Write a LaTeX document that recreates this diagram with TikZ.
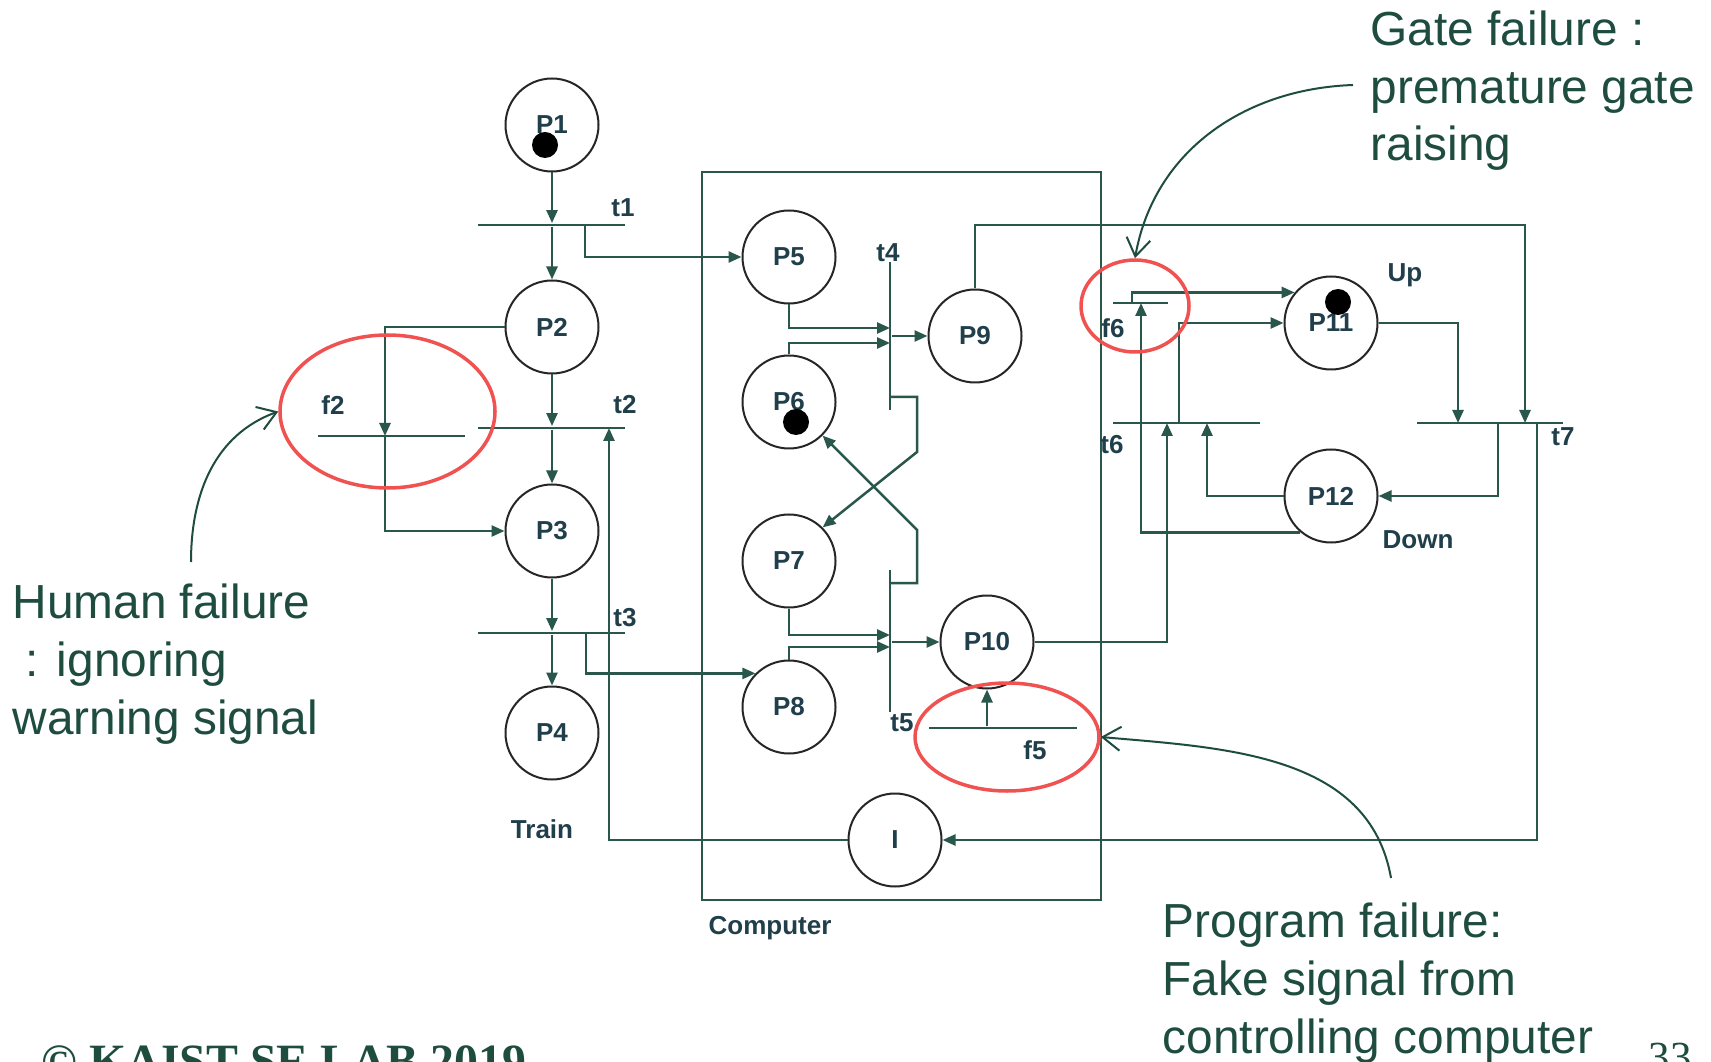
\documentclass[tikz,border=0pt]{standalone}
\usepackage{fontspec}
\setmainfont{Liberation Sans}
\newfontfamily\footserif{Liberation Serif}
\usetikzlibrary{arrows.meta,shapes.geometric}
\definecolor{netgreen}{HTML}{2A574C}
\definecolor{notegreen}{HTML}{1E4D40}
\definecolor{labelblue}{HTML}{203F4B}
\definecolor{ringred}{HTML}{F05252}
\newcommand{\plfont}{\fontsize{7.4}{8}\selectfont\bfseries}
\newcommand{\notefont}{\fontsize{13.6}{16.4}\selectfont}

\begin{document}
\begin{tikzpicture}[x=0.1mm,y=-0.1mm,
  place/.style={circle,draw=black!85,line width=0.2mm,minimum size=9.3mm,inner sep=0pt,text=labelblue,font=\plfont},
  hbar/.style={fill=netgreen,inner sep=0pt,minimum height=0.25mm,minimum width=#1},
  vbar/.style={fill=netgreen,inner sep=0pt,minimum width=0.25mm,minimum height=#1},
  tlabel/.style={inner sep=0pt,text=labelblue,font=\plfont},
  flow/.style={draw=netgreen,line width=0.25mm,-{Triangle[length=1.3mm,width=1.1mm]}},
  ring/.style={ellipse,draw=ringred,line width=0.35mm,inner sep=0pt},
  annot/.style={text=notegreen,font=\notefont,align=left,inner sep=0pt,anchor=base west},
  annarrow/.style={draw=notegreen,line width=0.2mm,-{Straight Barb[length=1.8mm,width=2.4mm]}}]
\useasboundingbox (0,0) rectangle (1711,1062);
\clip (0,0) rectangle (1711,1062);
\fill[white] (0,0) rectangle (1711,1062);
\draw[netgreen,line width=0.25mm] (702,172) rectangle (1101,900);
\node[place] (P1) at (552,125) {P1};
\node[place] (P2) at (552,327) {P2};
\node[place] (P3) at (552,531) {P3};
\node[place] (P4) at (552,733) {P4};
\node[place] (P5) at (789,257) {P5};
\node[place] (P6) at (789,402) {P6};
\node[place] (P7) at (789,561) {P7};
\node[place] (P8) at (789,707) {P8};
\node[place] (P9) at (975,336) {P9};
\node[place] (P10) at (987,642) {P10};
\node[place] (P11) at (1331,323) {P11};
\node[place] (P12) at (1331,496) {P12};
\node[place] (I) at (895,840) {I};
\fill[black] (545,145) circle (1.3mm);
\fill[black] (796,422) circle (1.3mm);
\fill[black] (1338,302) circle (1.3mm);
\node[hbar=14.7mm] (t1) at (551.5,225) {};
\node[hbar=14.7mm] (t2) at (551.5,428) {};
\node[hbar=14.7mm] (t3) at (551.5,633) {};
\node[hbar=14.7mm] (f2) at (391.5,436) {};
\node[vbar=14.8mm] (t4) at (890,336) {};
\node[vbar=14.2mm] (t5) at (890,641) {};
\node[hbar=14.7mm] (t6) at (1186.5,423) {};
\node[hbar=14.6mm] (t7) at (1490,423) {};
\node[hbar=5.5mm] (f6) at (1140.5,303) {};
\node[hbar=14.8mm] (f5) at (1003,728) {};
\node[tlabel] (lt1) at (623,208) {t1};
\node[tlabel] (lt2) at (625,405) {t2};
\node[tlabel] (lt3) at (625,618) {t3};
\node[tlabel] (lt4) at (888,253) {t4};
\node[tlabel] (lt5) at (902,723) {t5};
\node[tlabel] (lt6) at (1112,445) {t6};
\node[tlabel] (lt7) at (1563,437) {t7};
\node[tlabel] (lf2) at (333,405) {f2};
\node[tlabel] (lf5) at (1035,750) {f5};
\node[tlabel] (lf6) at (1113,328) {f6};
\node[tlabel] (lup) at (1405,275) {Up};
\node[tlabel] (ldown) at (1418,540) {Down};
\node[tlabel] (ltrain) at (542,829) {Train};
\node[tlabel] (lcomp) at (770,928) {Computer};
\coordinate (t1o) at (585,225);
\coordinate (f2j) at (385,436);
\coordinate (t2i) at (609,428);
\coordinate (t3o) at (586,633);
\coordinate (t4a) at (890,328);
\coordinate (t4b) at (890,343);
\coordinate (t4c) at (890,397);
\coordinate (t4k) at (917,452);
\coordinate (t5a) at (890,635);
\coordinate (t5b) at (890,647);
\coordinate (t5c) at (890,583);
\coordinate (t5k) at (917,530);
\coordinate (t6a) at (1167,423);
\coordinate (t6b) at (1207,423);
\coordinate (t6c) at (1179,423);
\coordinate (f6a) at (1141,303);
\coordinate (f6b) at (1132,303);
\coordinate (t7a) at (1458,423);
\coordinate (t7b) at (1525,423);
\coordinate (t7k) at (1525,225);
\coordinate (t7c) at (1498,423);
\coordinate (t7d) at (1537,423);
\draw[flow] (P1.south) -- (P1.south |- t1.north);
\draw[flow] (t1.south -| P2) -- (P2.north);
\draw[flow] (t1o) |- (P5.west);
\draw[flow] (P2.south) -- (P2.south |- t2.north);
\draw[flow] (t2.south -| P3) -- (P3.north);
\draw[flow] (P2.west) -| (f2j);
\draw[flow] (f2j) |- (P3.west);
\draw[flow] (P3.south) -- (P3.south |- t3.north);
\draw[flow] (t3.south -| P4) -- (P4.north);
\draw[flow] (t3o) |- (P8.135);
\draw[flow] (P5.south) |- (t4a);
\draw[flow] (P6.north) |- (t4b);
\draw[flow] (t4.east |- P9) -- (P9.west);
\draw[flow] (t4c) -| (t4k) -- (P7.45);
\draw[flow] (P7.south) |- (t5a);
\draw[flow] (P8.north) |- (t5b);
\draw[flow] (t5.east |- P10) -- (P10.west);
\draw[flow] (t5c) -| (t5k) -- (P6.-45);
\draw[flow] (f5.north -| P10) -- (P10.south);
\draw[flow] (P10.east) -| (t6a);
\draw[flow] (P12.west) -| (t6b);
\draw[flow] (t6c) |- (P11.west);
\draw[flow] (P12.230) -| (f6a);
\draw[flow] (f6b) |- (P11.140);
\draw[flow] (P11.east) -| (t7a);
\draw[flow] (P9.north) |- (t7k) -- (t7b);
\draw[flow] (t7c) |- (P12.east);
\draw[flow] (t7d) |- (I.east);
\draw[flow] (I.west) -| (t2i);
\node[ring,minimum width=21.5mm,minimum height=15.3mm] (f2ring) at (387.5,411.5) {};
\node[ring,minimum width=10.8mm,minimum height=9.2mm] (f6ring) at (1135,306) {};
\node[ring,minimum width=18.4mm,minimum height=10.8mm] (f5ring) at (1007,737) {};
\node[annot] (gatenote) at (1370,161) {Gate failure :\\premature gate\\raising};
\node[annot] (humannote) at (12,734) {Human failure\\\ : ignoring\\warning signal};
\node[annot] (prognote) at (1162,1053) {Program failure:\\Fake signal from\\controlling computer};
\coordinate (humantail) at (191,562);
\coordinate (gatetail) at (1353,85);
\coordinate (progtail) at (1391,878);
\draw[annarrow] (humantail) to[out=90,in=200] (f2ring.west);
\draw[annarrow] (gatetail) to[out=182,in=80] (f6ring.north);
\draw[annarrow] (progtail) to[out=100,in=-5] (f5ring.east);
\node[inner sep=0pt,anchor=base west,text=notegreen,font=\footserif\bfseries\fontsize{13.6}{16}\selectfont] (footer) at (41,1077) {© KAIST SE LAB 2019};
\node[inner sep=0pt,anchor=base west,text=notegreen,font=\footserif\fontsize{12.2}{14}\selectfont] (pagenum) at (1648,1071) {33};
\end{tikzpicture}
\end{document}
